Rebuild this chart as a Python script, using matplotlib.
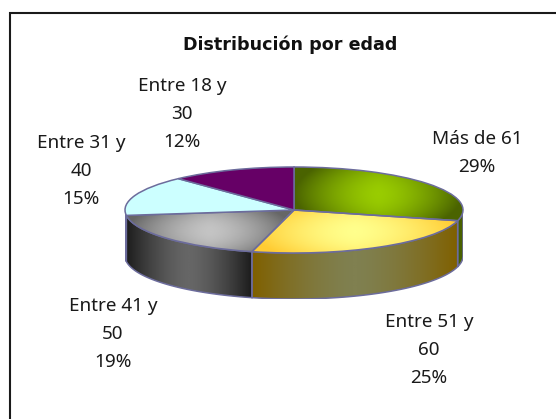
import numpy as np
import matplotlib
matplotlib.use("Agg")
import matplotlib.pyplot as plt
from matplotlib.colors import LinearSegmentedColormap
from matplotlib.patches import Polygon

plt.rcParams["font.family"] = "Noto Sans"

title = "Distribución por edad"
categories = ["Más de 61", "Entre 51 y\n60", "Entre 41 y\n50", "Entre 31 y\n40", "Entre 18 y\n30"]
percent = [29, 25, 19, 15, 12]
top_edge = ["#4a6300", "#ffcc33", "#666666", "#ccffff", "#660066"]
top_mid = ["#99cc00", "#ffff8c", "#c4c4c4", "#ccffff", "#660066"]
wall_edge = ["#3f5400", "#7f6000", "#1c1c1c", "#6b8080", "#330033"]
wall_mid = ["#4a6300", "#808050", "#666666", "#6b8080", "#330033"]
label_px = [(477, 153), (429, 350), (113, 334), (81, 171), (182, 114)]

W, H = 556, 419
CX, CY, A, B, DEPTH = 294, 210, 169, 43, 46
EDGE = "#6c6c9c"

fig = plt.figure(figsize=(W / 100, H / 100), dpi=100, facecolor="white")

# frame (open on right and bottom, as in the reference)
bg = fig.add_axes([0, 0, 1, 1])
bg.set_xlim(0, W); bg.set_ylim(H, 0); bg.axis("off")
bg.plot([9.5, 9.5, W], [H, 13.5, 13.5], color="#1a1a1a", lw=1.5, solid_joinstyle="miter")
bg.text(290, 45, title, ha="center", va="center", fontsize=12.6, fontweight="bold",
        family="DejaVu Sans", color="#111111")

# axes: unit circle squashed to the ellipse of the pie, extended down for the wall
d = DEPTH / B
ax = fig.add_axes([(CX - A) / W, 1 - (CY + B + DEPTH) / H, 2 * A / W, (2 * B + DEPTH) / H])
wedges, _ = ax.pie(percent, startangle=90, counterclock=False, radius=1,
                   colors=top_edge, wedgeprops=dict(edgecolor=EDGE, linewidth=1.1, zorder=5))
ax.set_aspect("auto")
ax.axis("off")


def paint(bbox, c_edge, c_mid, clip, z, vweight=0.35):
    x0, x1, y0, y1 = bbox
    cmap = LinearSegmentedColormap.from_list("g", [c_mid, c_edge])
    u, v = np.meshgrid(np.linspace(-1, 1, 160), np.linspace(-1, 1, 60))
    t = np.clip((np.abs(u) ** 1.5) + vweight * np.abs(v) ** 2, 0, 1)
    im = ax.imshow(t, extent=(x0, x1, y0, y1), origin="lower", aspect="auto",
                   cmap=cmap, vmin=0, vmax=1, zorder=z, interpolation="bilinear")
    im.set_clip_path(clip)


frac = np.cumsum([0] + percent) / sum(percent)
ang = 90 - 360 * frac

# side walls: only the part of each slice facing the viewer (angles in -180..0)
for i in range(len(percent)):
    a0, a1 = ang[i], ang[i + 1]
    lo, hi = max(a1, -180), min(a0, 0)
    if hi <= lo:
        continue
    th = np.radians(np.linspace(hi, lo, 80))
    xs, ys = np.cos(th), np.sin(th)
    pts = np.r_[np.c_[xs, ys], np.c_[xs[::-1], ys[::-1] - d]]
    poly = Polygon(pts, closed=True, facecolor="none", edgecolor=EDGE, lw=1.1, zorder=3)
    ax.add_patch(poly)
    clip = Polygon(pts, closed=True, transform=ax.transData)
    paint((xs.min(), xs.max(), (ys - d).min(), ys.max()), wall_edge[i], wall_mid[i], clip, 2, vweight=0)

# gradient fill of the top faces, clipped to the pie wedges
for i, w in enumerate(wedges):
    a0, a1 = ang[i], ang[i + 1]
    th = np.radians(np.linspace(a1, a0, 80))
    xs = np.r_[0, np.cos(th)]; ys = np.r_[0, np.sin(th)]
    if top_edge[i] != top_mid[i]:
        w.set_facecolor("none")
        paint((xs.min(), xs.max(), ys.min(), ys.max()), top_edge[i], top_mid[i], w, 4)

ax.set_xlim(-1, 1); ax.set_ylim(-1 - d, 1)

# labels
for cat, pct, (x, y) in zip(categories, percent, label_px):
    bg.text(x, y, f"{cat}\n{pct}%", ha="center", va="center", fontsize=13.6,
            color="#1a1a1a", linespacing=1.72, zorder=10)

fig.savefig("out.png", dpi=100, facecolor="white")
